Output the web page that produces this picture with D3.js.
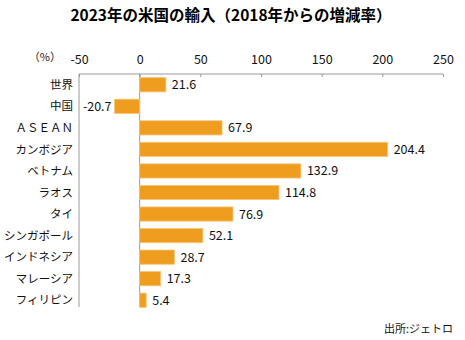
<!DOCTYPE html>
<html>
<head>
<meta charset="utf-8">
<script src="https://cdn.jsdelivr.net/npm/d3@7"></script>
<style>
  body { margin: 0; background: #fff; }
  text { font-family: "Noto Sans CJK JP", "Noto Sans", sans-serif; }
</style>
</head>
<body>
<svg id="chart" width="465" height="340"></svg>
<script>
var countries = ["世界", "中国", "ＡＳＥＡＮ", "カンボジア", "ベトナム", "ラオス", "タイ", "シンガポール", "インドネシア", "マレーシア", "フィリピン"];
var growth = [21.6, -20.7, 67.9, 204.4, 132.9, 114.8, 76.9, 52.1, 28.7, 17.3, 5.4];
var tickValues = [-50, 0, 50, 100, 150, 200, 250];

var svg = d3.select("#chart"),
    margin = { top: 74, right: 22, bottom: 29, left: 79 },
    width = +svg.attr("width") - margin.left - margin.right,
    height = +svg.attr("height") - margin.top - margin.bottom,
    g = svg.append("g").attr("transform", "translate(" + margin.left + "," + margin.top + ")");

var data = countries.map(function(c, i) { return { name: c, value: growth[i] }; });

var x = d3.scaleLinear().domain([-50, 250]).range([0, width]);
var y = d3.scaleBand().domain(countries).range([0, height]).paddingInner(0.34).paddingOuter(0.17);

// title
svg.append("text")
    .attr("x", 231).attr("y", 21)
    .attr("text-anchor", "middle")
    .style("font-size", "15.5px").style("font-weight", "bold")
    .text("2023年の米国の輸入（2018年からの増減率）");

// top axis
var xAxis = g.append("g")
    .call(d3.axisTop(x).tickValues(tickValues).tickSize(-3).tickPadding(10)
        .tickFormat(function(d) { return String(d); }));
xAxis.select(".domain").attr("stroke", "#999").attr("d", "M0,0H" + width);
xAxis.selectAll(".tick line").attr("stroke", "#999");
xAxis.selectAll(".tick text").style("font-size", "12.5px").attr("fill", "#111");

g.append("text")
    .attr("x", -18).attr("y", -13)
    .attr("text-anchor", "end")
    .style("font-size", "11px").attr("fill", "#222")
    .text("（%）");

// left axis line
g.append("line")
    .attr("x1", 0).attr("x2", 0).attr("y1", 0).attr("y2", height - 4)
    .attr("stroke", "#999");

// zero line
g.append("line")
    .attr("x1", x(0)).attr("x2", x(0)).attr("y1", 0).attr("y2", height - 4)
    .attr("stroke", "#999");

// bars
g.append("g").selectAll("rect")
    .data(data).enter().append("rect")
    .attr("x", function(d) { return x(Math.min(0, d.value)); })
    .attr("y", function(d) { return y(d.name); })
    .attr("width", function(d) { return Math.abs(x(d.value) - x(0)); })
    .attr("height", y.bandwidth())
    .attr("fill", "#EF9D1F")
    .attr("stroke", "#F6C57A")
    .attr("stroke-width", 0.8);

// value labels
g.append("g").selectAll("text")
    .data(data).enter().append("text")
    .attr("x", function(d) { return d.value < 0 ? x(d.value) - 3 : x(d.value) + 6; })
    .attr("y", function(d) { return y(d.name) + y.bandwidth() / 2; })
    .attr("dy", "0.36em")
    .attr("text-anchor", function(d) { return d.value < 0 ? "end" : "start"; })
    .style("font-size", "12.5px").attr("fill", "#111")
    .text(function(d) { return d.value.toFixed(1); });

// category labels
g.append("g").selectAll("text")
    .data(data).enter().append("text")
    .attr("x", -6)
    .attr("y", function(d) { return y(d.name) + y.bandwidth() / 2; })
    .attr("dy", "0.36em")
    .attr("text-anchor", "end")
    .style("font-size", "11.5px").attr("fill", "#111")
    .text(function(d) { return d.name; });

// source
svg.append("text")
    .attr("x", 453).attr("y", 333)
    .attr("text-anchor", "end")
    .style("font-size", "11px").attr("fill", "#111")
    .text("出所:ジェトロ");
</script>
</body>
</html>
